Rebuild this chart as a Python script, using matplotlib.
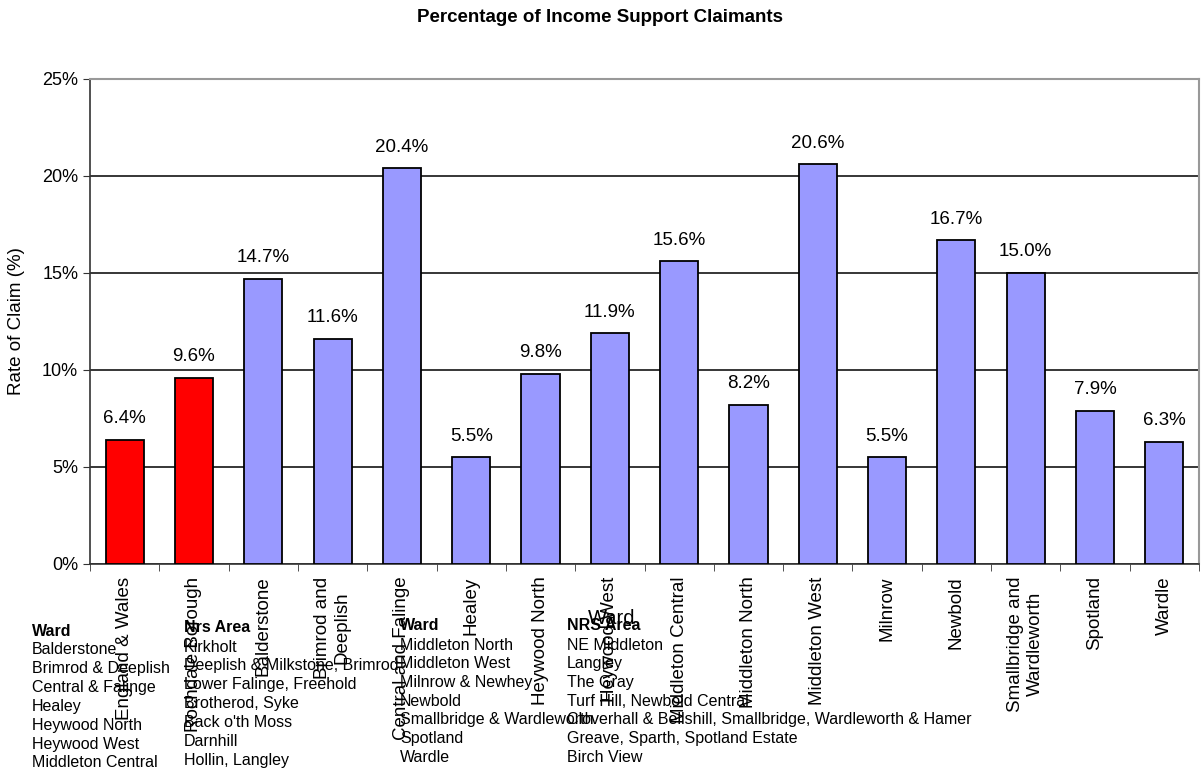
import matplotlib
matplotlib.use('Agg')
import matplotlib.pyplot as plt
import numpy as np

plt.rcParams['font.family'] = ['Liberation Sans', 'DejaVu Sans']

# data
categories = ['England & Wales', 'Rochdale Borough', 'Balderstone', 'Brimrod and\nDeeplish',
              'Central and Falinge', 'Healey', 'Heywood North', 'Heywood West',
              'Middleton Central', 'Middleton North', 'Middleton West', 'Milnrow',
              'Newbold', 'Smallbridge and\nWardleworth', 'Spotland', 'Wardle']
values = [6.4, 9.6, 14.7, 11.6, 20.4, 5.5, 9.8, 11.9, 15.6, 8.2, 20.6, 5.5, 16.7, 15.0, 7.9, 6.3]
is_reference = [True, True] + [False] * 14

ward_col1 = ['Balderstone', 'Brimrod & Deeplish', 'Central & Falinge', 'Healey',
             'Heywood North', 'Heywood West', 'Middleton Central']
nrs_col1 = ['Kirkholt', 'Deeplish & Milkstone, Brimrod', 'Lower Falinge, Freehold',
            'Brotherod, Syke', "Back o'th Moss", 'Darnhill', 'Hollin, Langley']
ward_col2 = ['Middleton North', 'Middleton West', 'Milnrow & Newhey', 'Newbold',
             'Smallbridge & Wardleworth', 'Spotland', 'Wardle']
nrs_col2 = ['NE Middleton', 'Langley', 'The Gray', 'Turf Hill, Newbold Central',
            'Cloverhall & Bellshill, Smallbridge, Wardleworth & Hamer',
            'Greave, Sparth, Spotland Estate', 'Birch View']

W, H = 1201, 769
fig = plt.figure(figsize=(W / 100, H / 100), dpi=100)
ax = fig.add_axes([90 / W, 1 - 564 / H, (1199 - 90) / W, (564 - 79) / H])

x = np.arange(len(categories))
colors = ['#FF0000' if r else '#9999FF' for r in is_reference]
ax.bar(x, values, width=0.55, color=colors, edgecolor='black', linewidth=1.3, zorder=3)

for xi, v in zip(x, values):
    ax.annotate(f'{v:.1f}%', (xi, v), xytext=(0, 9), textcoords='offset points',
                ha='center', va='bottom', fontsize=13.5)

ax.set_xlim(-0.5, len(categories) - 0.5)
ax.set_ylim(0, 25)
ax.set_yticks([0, 5, 10, 15, 20, 25])
ax.set_yticklabels(['0%', '5%', '10%', '15%', '20%', '25%'], fontsize=13)
ax.yaxis.grid(True, color='black', linewidth=1.1, zorder=0)
ax.set_axisbelow(True)

ax.set_xticks(x)
ax.set_xticklabels(categories, rotation=90, fontsize=13.5, va='top', ha='center',
                   multialignment='center')
ax.tick_params(axis='x', length=0, pad=9)
ax.set_xticks(np.arange(-0.5, len(categories)), minor=True)
ax.tick_params(axis='x', which='minor', length=5, direction='out', color='#333333')
ax.tick_params(axis='y', length=5, direction='out', color='#333333')

for side in ['top', 'right']:
    ax.spines[side].set_color('#999999')
    ax.spines[side].set_linewidth(1.5)
for side in ['left', 'bottom']:
    ax.spines[side].set_color('#333333')
    ax.spines[side].set_linewidth(1.2)

ax.set_ylabel('Rate of Claim (%)', fontsize=13.5, labelpad=12)
fig.text(600 / W, 1 - 17 / H, 'Percentage of Income Support Claimants',
         ha='center', va='center', fontsize=13.5, fontweight='bold')

# ward / NRS area table under the chart
def put_column(x_px, head_y, row_y0, step, header, rows):
    fig.text(x_px / W, 1 - head_y / H, header, ha='left', va='center',
             fontsize=11.5, fontweight='bold')
    for i, r in enumerate(rows):
        fig.text(x_px / W, 1 - (row_y0 + i * step) / H, r, ha='left', va='center', fontsize=11.5)

put_column(32, 631, 650, 18.8, 'Ward', ward_col1)
put_column(184, 628, 647, 18.9, 'Nrs Area', nrs_col1)
put_column(400, 625, 645, 18.7, 'Ward', ward_col2)
put_column(567, 625, 645, 18.7, 'NRS Area', nrs_col2)
fig.text(588 / W, 1 - 619 / H, 'Ward', ha='left', va='center', fontsize=14.5)

fig.savefig('out.png', dpi=100)
